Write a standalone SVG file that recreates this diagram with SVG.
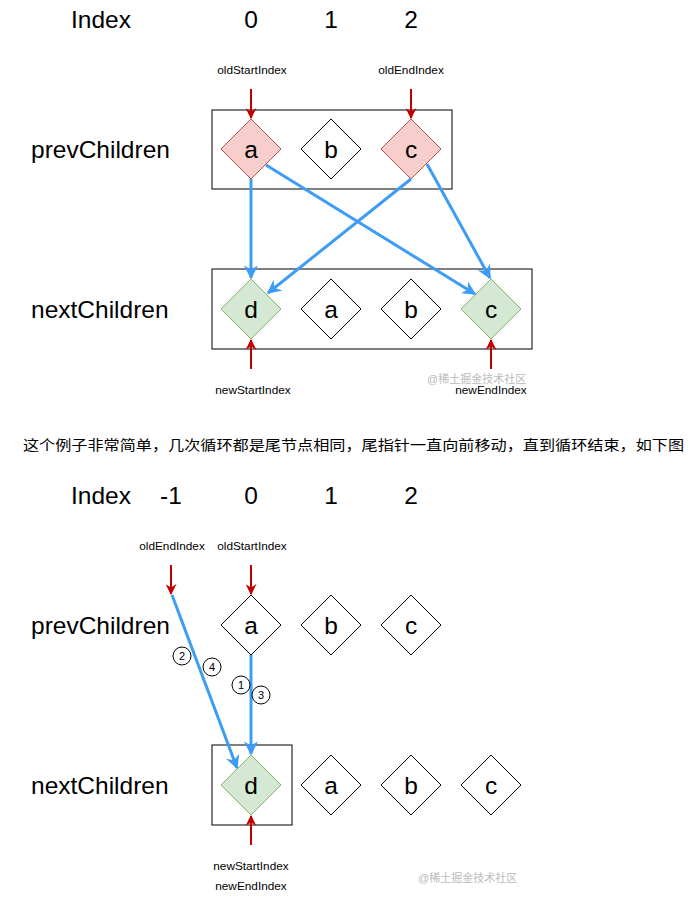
<svg xmlns="http://www.w3.org/2000/svg" width="694" height="908" viewBox="0 0 694 908">
<style>
.big{font-family:"Liberation Sans",Arial,sans-serif;font-size:24.5px;fill:#000}
.lbl{font-family:"Liberation Sans",Arial,sans-serif;font-size:11.8px;fill:#000}
.num{font-family:"Liberation Sans",Arial,sans-serif;font-size:11px;fill:#000}
.cn{font-family:"Liberation Sans","Noto Sans CJK SC",sans-serif;font-size:14px;fill:#000}
.wm{font-family:"Liberation Sans","Noto Sans CJK SC",sans-serif;font-size:11px;fill:#bbb}
.box{fill:none;stroke:#000;stroke-width:1}
.dw{fill:#fff;stroke:#000;stroke-width:1}
.dr{fill:#f8cecc;stroke:#b85450;stroke-width:1}
.dg{fill:#d5e8d4;stroke:#82b366;stroke-width:1}
.red{stroke:#c00000;stroke-width:2;fill:none}
.blue{stroke:#3d9cf5;stroke-width:3;fill:none}
.circ{fill:#fff;stroke:#000;stroke-width:1}
</style>
<defs>
<marker id="ar" viewBox="0 0 10 10" refX="9" refY="5" markerWidth="11" markerHeight="11" orient="auto" markerUnits="userSpaceOnUse">
<path d="M0,0 L10,5 L0,10 L3,5 Z" fill="#c00000"/>
</marker>
<marker id="ab" viewBox="0 0 10 10" refX="9" refY="5" markerWidth="14" markerHeight="14" orient="auto" markerUnits="userSpaceOnUse">
<path d="M0,0 L10,5 L0,10 L3,5 Z" fill="#3d9cf5"/>
</marker>
<path id="dia" d="M0,-30 L30,0 L0,30 L-30,0 Z"/>
</defs>

<!-- Section 1 -->
<g id="index1">
<text class="big" x="71" y="28">Index</text>
<text class="big" x="251" y="28" text-anchor="middle">0</text>
<text class="big" x="331" y="28" text-anchor="middle">1</text>
<text class="big" x="411" y="28" text-anchor="middle">2</text>
</g>
<g id="rowlabels1">
<text class="big" x="31" y="158">prevChildren</text>
<text class="big" x="31" y="318">nextChildren</text>
</g>
<g id="box1"><rect class="box" x="212" y="110" width="240" height="79"/></g>
<g id="box2"><rect class="box" x="212" y="269" width="320" height="80"/></g>

<g id="p-a"><use href="#dia" class="dr" x="251" y="149"/><text class="big" x="251" y="158" text-anchor="middle">a</text></g>
<g id="p-b"><use href="#dia" class="dw" x="331" y="149"/><text class="big" x="331" y="158" text-anchor="middle">b</text></g>
<g id="p-c"><use href="#dia" class="dr" x="411" y="149"/><text class="big" x="411" y="158" text-anchor="middle">c</text></g>

<g id="n-d"><use href="#dia" class="dg" x="251" y="309"/><text class="big" x="251" y="318" text-anchor="middle">d</text></g>
<g id="n-a"><use href="#dia" class="dw" x="331" y="309"/><text class="big" x="331" y="318" text-anchor="middle">a</text></g>
<g id="n-b"><use href="#dia" class="dw" x="411" y="309"/><text class="big" x="411" y="318" text-anchor="middle">b</text></g>
<g id="n-c"><use href="#dia" class="dg" x="491" y="309"/><text class="big" x="491" y="318" text-anchor="middle">c</text></g>

<g id="ptr1">
<text class="lbl" x="252" y="74" text-anchor="middle">oldStartIndex</text>
<text class="lbl" x="411" y="74" text-anchor="middle">oldEndIndex</text>
<text class="lbl" x="253" y="394" text-anchor="middle">newStartIndex</text>
<text class="lbl" x="491" y="394" text-anchor="middle">newEndIndex</text>
</g>

<g id="connectors1">
<line class="red" x1="251" y1="89" x2="251" y2="118" marker-end="url(#ar)"/>
<line class="red" x1="411" y1="89" x2="411" y2="118" marker-end="url(#ar)"/>
<line class="red" x1="251" y1="369" x2="251" y2="340" marker-end="url(#ar)"/>
<line class="red" x1="491" y1="369" x2="491" y2="340" marker-end="url(#ar)"/>
<line class="blue" x1="251" y1="179" x2="251" y2="278" marker-end="url(#ab)"/>
<line class="blue" x1="266" y1="165" x2="475" y2="294" marker-end="url(#ab)"/>
<line class="blue" x1="411" y1="179" x2="268" y2="293" marker-end="url(#ab)"/>
<line class="blue" x1="427" y1="164" x2="490" y2="278" marker-end="url(#ab)"/>
</g>
<text class="wm" x="427" y="383">@稀土掘金技术社区</text>

<text class="cn" x="23" y="450" textLength="661" lengthAdjust="spacingAndGlyphs">这个例子非常简单，几次循环都是尾节点相同，尾指针一直向前移动，直到循环结束，如下图</text>

<!-- Section 2 -->
<g id="index2">
<text class="big" x="71" y="504">Index</text>
<text class="big" x="171" y="504" text-anchor="middle">-1</text>
<text class="big" x="251" y="504" text-anchor="middle">0</text>
<text class="big" x="331" y="504" text-anchor="middle">1</text>
<text class="big" x="411" y="504" text-anchor="middle">2</text>
</g>
<g id="rowlabels2">
<text class="big" x="31" y="634">prevChildren</text>
<text class="big" x="31" y="794">nextChildren</text>
</g>
<g id="box3"><rect class="box" x="212" y="745" width="80" height="80"/></g>

<g id="p2-a"><use href="#dia" class="dw" x="251" y="625"/><text class="big" x="251" y="634" text-anchor="middle">a</text></g>
<g id="p2-b"><use href="#dia" class="dw" x="331" y="625"/><text class="big" x="331" y="634" text-anchor="middle">b</text></g>
<g id="p2-c"><use href="#dia" class="dw" x="411" y="625"/><text class="big" x="411" y="634" text-anchor="middle">c</text></g>

<g id="n2-d"><use href="#dia" class="dg" x="251" y="785"/><text class="big" x="251" y="794" text-anchor="middle">d</text></g>
<g id="n2-a"><use href="#dia" class="dw" x="331" y="785"/><text class="big" x="331" y="794" text-anchor="middle">a</text></g>
<g id="n2-b"><use href="#dia" class="dw" x="411" y="785"/><text class="big" x="411" y="794" text-anchor="middle">b</text></g>
<g id="n2-c"><use href="#dia" class="dw" x="491" y="785"/><text class="big" x="491" y="794" text-anchor="middle">c</text></g>

<g id="ptr2">
<text class="lbl" x="172" y="550" text-anchor="middle">oldEndIndex</text>
<text class="lbl" x="252" y="550" text-anchor="middle">oldStartIndex</text>
<text class="lbl" x="251" y="870" text-anchor="middle">newStartIndex</text>
<text class="lbl" x="251" y="890" text-anchor="middle">newEndIndex</text>
</g>

<g id="connectors2">
<line class="red" x1="171" y1="565" x2="171" y2="594" marker-end="url(#ar)"/>
<line class="red" x1="251" y1="565" x2="251" y2="594" marker-end="url(#ar)"/>
<line class="red" x1="251" y1="845" x2="251" y2="816" marker-end="url(#ar)"/>
<line class="blue" x1="172" y1="595" x2="237" y2="768" marker-end="url(#ab)"/>
<line class="blue" x1="251" y1="655" x2="251" y2="754" marker-end="url(#ab)"/>
</g>

<g id="steps">
<circle class="circ" cx="182" cy="656" r="9"/><text class="num" x="182" y="660" text-anchor="middle">2</text>
<circle class="circ" cx="212" cy="667" r="9"/><text class="num" x="212" y="671" text-anchor="middle">4</text>
<circle class="circ" cx="241" cy="685" r="9"/><text class="num" x="241" y="689" text-anchor="middle">1</text>
<circle class="circ" cx="261" cy="695" r="9"/><text class="num" x="261" y="699" text-anchor="middle">3</text>
</g>
<text class="wm" x="418" y="882">@稀土掘金技术社区</text>
</svg>
